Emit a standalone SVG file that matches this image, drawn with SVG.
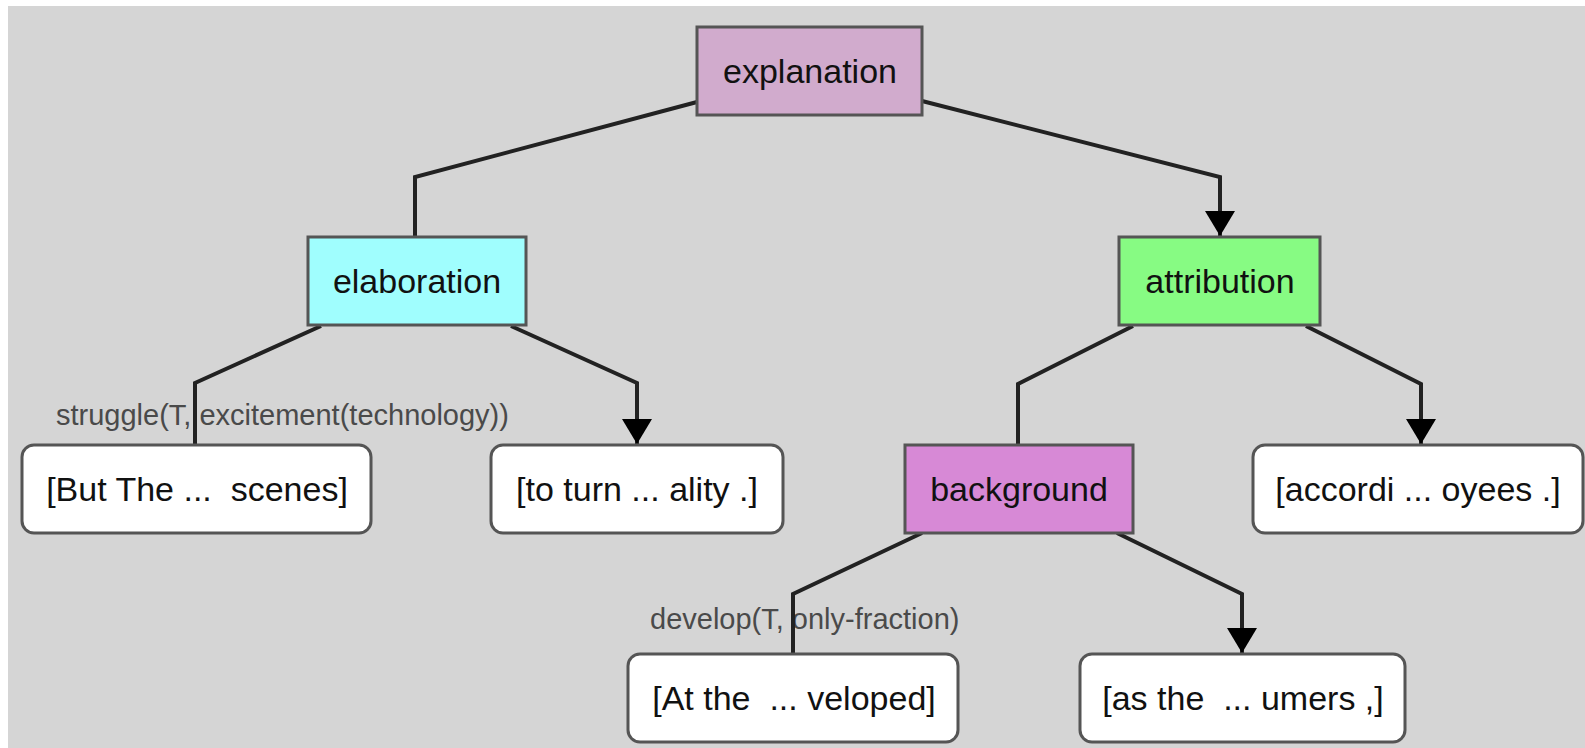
<svg xmlns="http://www.w3.org/2000/svg" width="1585" height="748" viewBox="0 0 1585 748">
<style>
.node{stroke:#555;stroke-width:3}
.leaf{fill:#fff;stroke:#555;stroke-width:3}
.lbl{font-family:"Liberation Sans",Arial,sans-serif;font-size:34px;fill:#111;text-anchor:middle}
.elbl{font-family:"Liberation Sans",Arial,sans-serif;font-size:29px;fill:#4a4a4a}
.conn{fill:none;stroke:#222;stroke-width:4;stroke-linejoin:miter}
</style>
<defs>
<marker id="arr" markerUnits="userSpaceOnUse" markerWidth="25" markerHeight="30" viewBox="0 0 25 30" refX="25" refY="15" orient="auto">
<path d="M0,0 L25,15 L0,30 z" fill="#000"/>
</marker>
</defs>
<rect x="0" y="0" width="1585" height="748" fill="#fff"/>
<rect x="8" y="6" width="1577" height="742" fill="#d5d5d5"/>

<g id="labels">
<text class="elbl" x="56" y="425">struggle(T, excitement(technology))</text>
<text class="elbl" x="650" y="629">develop(T, only-fraction)</text>
</g>

<g id="connectors">
<path class="conn" d="M697,102 L415,177 L415,237"/>
<path class="conn" d="M922,101 L1220,177 L1220,236" marker-end="url(#arr)"/>
<path class="conn" d="M321,326 L195,383 L195,445"/>
<path class="conn" d="M511,326 L637,383 L637,444" marker-end="url(#arr)"/>
<path class="conn" d="M1133,326 L1018,384 L1018,445"/>
<path class="conn" d="M1306,326 L1421,384 L1421,444" marker-end="url(#arr)"/>
<path class="conn" d="M922,533 L793,594 L793,654"/>
<path class="conn" d="M1117,533 L1242,594 L1242,653" marker-end="url(#arr)"/>
</g>

<g id="explanation">
<rect class="node" x="697" y="27" width="225" height="88" fill="#d1abcd"/>
<text class="lbl" x="810" y="83">explanation</text>
</g>
<g id="elaboration">
<rect class="node" x="308" y="237" width="218" height="88" fill="#a0fefe"/>
<text class="lbl" x="417" y="293">elaboration</text>
</g>
<g id="attribution">
<rect class="node" x="1119" y="237" width="201" height="88" fill="#87fb83"/>
<text class="lbl" x="1220" y="293">attribution</text>
</g>
<g id="background">
<rect class="node" x="905" y="445" width="228" height="88" fill="#d789d6"/>
<text class="lbl" x="1019" y="501">background</text>
</g>
<g id="leaf-but">
<rect class="leaf" x="22" y="445" width="349" height="88" rx="12"/>
<text class="lbl" x="197" y="501" xml:space="preserve">[But The ...  scenes]</text>
</g>
<g id="leaf-toturn">
<rect class="leaf" x="491" y="445" width="292" height="88" rx="12"/>
<text class="lbl" x="637" y="501">[to turn ... ality .]</text>
</g>
<g id="leaf-accordi">
<rect class="leaf" x="1253" y="445" width="330" height="88" rx="12"/>
<text class="lbl" x="1418" y="501">[accordi ... oyees .]</text>
</g>
<g id="leaf-atthe">
<rect class="leaf" x="628" y="654" width="330" height="88" rx="12"/>
<text class="lbl" x="794" y="710" xml:space="preserve">[At the  ... veloped]</text>
</g>
<g id="leaf-asthe">
<rect class="leaf" x="1080" y="654" width="325" height="88" rx="12"/>
<text class="lbl" x="1243" y="710" xml:space="preserve">[as the  ... umers ,]</text>
</g>
</svg>
